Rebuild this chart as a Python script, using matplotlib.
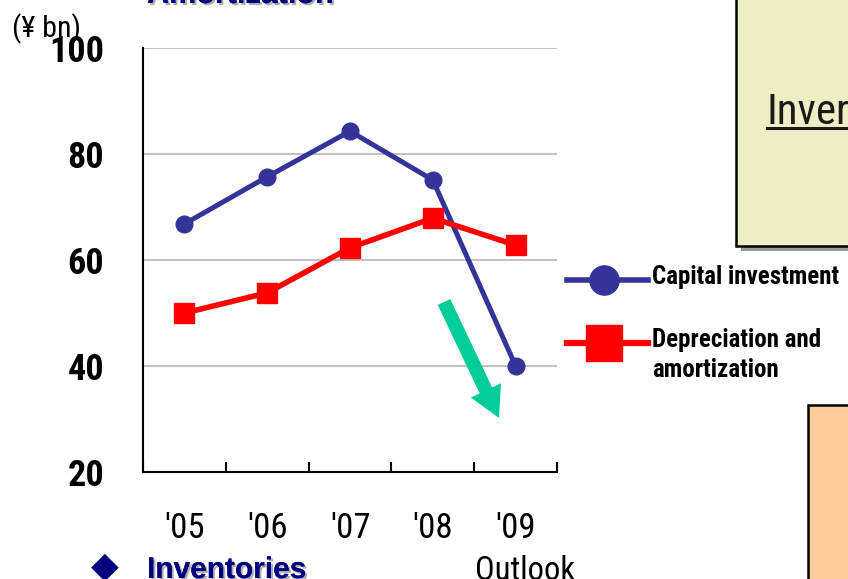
import numpy as np
import matplotlib
matplotlib.use("Agg")
import matplotlib.pyplot as plt
from matplotlib.lines import Line2D
from matplotlib.patches import Rectangle, FancyArrowPatch
import matplotlib.patheffects as pe

plt.rcParams['font.family'] = ['Roboto Condensed', 'DejaVu Sans']

# data
years = ["'05", "'06", "'07", "'08", "'09"]
capital_investment = [66.8, 75.7, 84.3, 75.1, 40.0]
depreciation = [50.0, 53.8, 62.3, 67.9, 62.8]
series_labels = ["Capital investment", "Depreciation and\namortization"]
y_ticks = [20, 40, 60, 80, 100]

BLUE = "#333399"
RED = "#FF0000"
NAVY = "#000080"
W, H = 848, 579


def fx(x):
    return x / W


def fy(y):
    return 1 - y / H


fig = plt.figure(figsize=(W / 100, H / 100), dpi=100)
ax = fig.add_axes([fx(143), fy(472), fx(557) - fx(143), fy(48) - fy(472)])

x = np.arange(len(years))
ax.plot(x, capital_investment, color=BLUE, lw=3.6, marker="o", ms=12,
        solid_joinstyle="round", zorder=3)
ax.plot(x, depreciation, color=RED, lw=4, marker="s", ms=15, zorder=3)

ax.set_xlim(-0.5, len(years) - 0.5)
ax.set_ylim(20, 100)
ax.set_yticks(y_ticks)
ax.set_yticklabels([str(v) for v in y_ticks], fontsize=26, fontweight="bold")
ax.tick_params(axis="y", length=0, pad=28)
ax.set_xticks(x)
ax.set_xticklabels(years, fontsize=25)
ax.tick_params(axis="x", which="major", length=0, pad=29)
ax.set_xticks(np.arange(-0.5, len(years)), minor=True)
ax.tick_params(axis="x", which="minor", direction="in", length=7, width=1.5)

for v in y_ticks[1:]:
    ax.axhline(v, color="#C0C0C0", lw=1.4, zorder=1)
for s in ["top", "right"]:
    ax.spines[s].set_visible(False)
ax.spines["left"].set_linewidth(1.5)
ax.spines["bottom"].set_linewidth(1.5)

# green arrow
arrow = FancyArrowPatch((fx(444), fy(302)), (fx(499), fy(418)),
                        transform=fig.transFigure,
                        arrowstyle="simple,head_length=22,head_width=24,tail_width=10",
                        mutation_scale=1, shrinkA=0, shrinkB=0,
                        color="#00CC99", lw=0, zorder=2)
fig.add_artist(arrow)

# legend drawn by hand
leg_rows = [(280, BLUE, "o", 21, 4), (343, RED, "s", 26, 4.5)]
for (ly, c, m, ms, lw), lab in zip(leg_rows, series_labels):
    fig.add_artist(Line2D([fx(567), fx(648)], [fy(ly), fy(ly)], color=c, lw=lw,
                          transform=fig.transFigure))
    fig.add_artist(Line2D([fx(604)], [fy(ly)], color=c, marker=m, ms=ms, lw=0,
                          transform=fig.transFigure))
    fig.text(fx(652), fy(ly - 15), lab, fontsize=18, fontweight="bold",
             va="top", ha="left", linespacing=1.3)

# yellow box with shadow
fig.add_artist(Rectangle((fx(741), fy(251)), 0.2, 0.6, transform=fig.transFigure,
                         color="#999999", lw=0, zorder=0))
fig.add_artist(Rectangle((fx(736), fy(246)), 0.2, 0.6, transform=fig.transFigure,
                         facecolor="#EEEEC4", edgecolor="black", lw=1.8, zorder=1))
fig.text(fx(766), fy(124), "Inver", fontsize=31, color="#1a1a1a", va="baseline")
fig.add_artist(Line2D([fx(767), fx(860)], [fy(128), fy(128)], color="#1a1a1a",
                      lw=2.2, transform=fig.transFigure))

# orange box
fig.add_artist(Rectangle((fx(808), fy(650)), 0.2, fy(405) - fy(650),
                         transform=fig.transFigure, facecolor="#FFCC99",
                         edgecolor="black", lw=1.8, zorder=1))

shadow = [pe.withSimplePatchShadow(offset=(1.5, -1.5), shadow_rgbFace="#999999",
                                   alpha=0.8), pe.Normal()]
fig.text(fx(147), fy(3), "Amortization", fontsize=22, fontweight="bold",
         family="Liberation Sans", color=NAVY, va="baseline", path_effects=shadow)
fig.text(fx(147), fy(578), "Inventories", fontsize=21.5, fontweight="bold",
         family="Liberation Sans", color=NAVY, va="baseline", path_effects=shadow)
fig.text(fx(105), fy(567), "\u25C6", fontsize=26, family="DejaVu Sans",
         color=NAVY, ha="center", va="center")

fig.text(fx(12), fy(37), "(\u00A5 bn)", fontsize=21.5, va="baseline")
fig.text(fx(475), fy(580), "Outlook", fontsize=23.5, va="baseline")

fig.savefig("out.png", dpi=100)
